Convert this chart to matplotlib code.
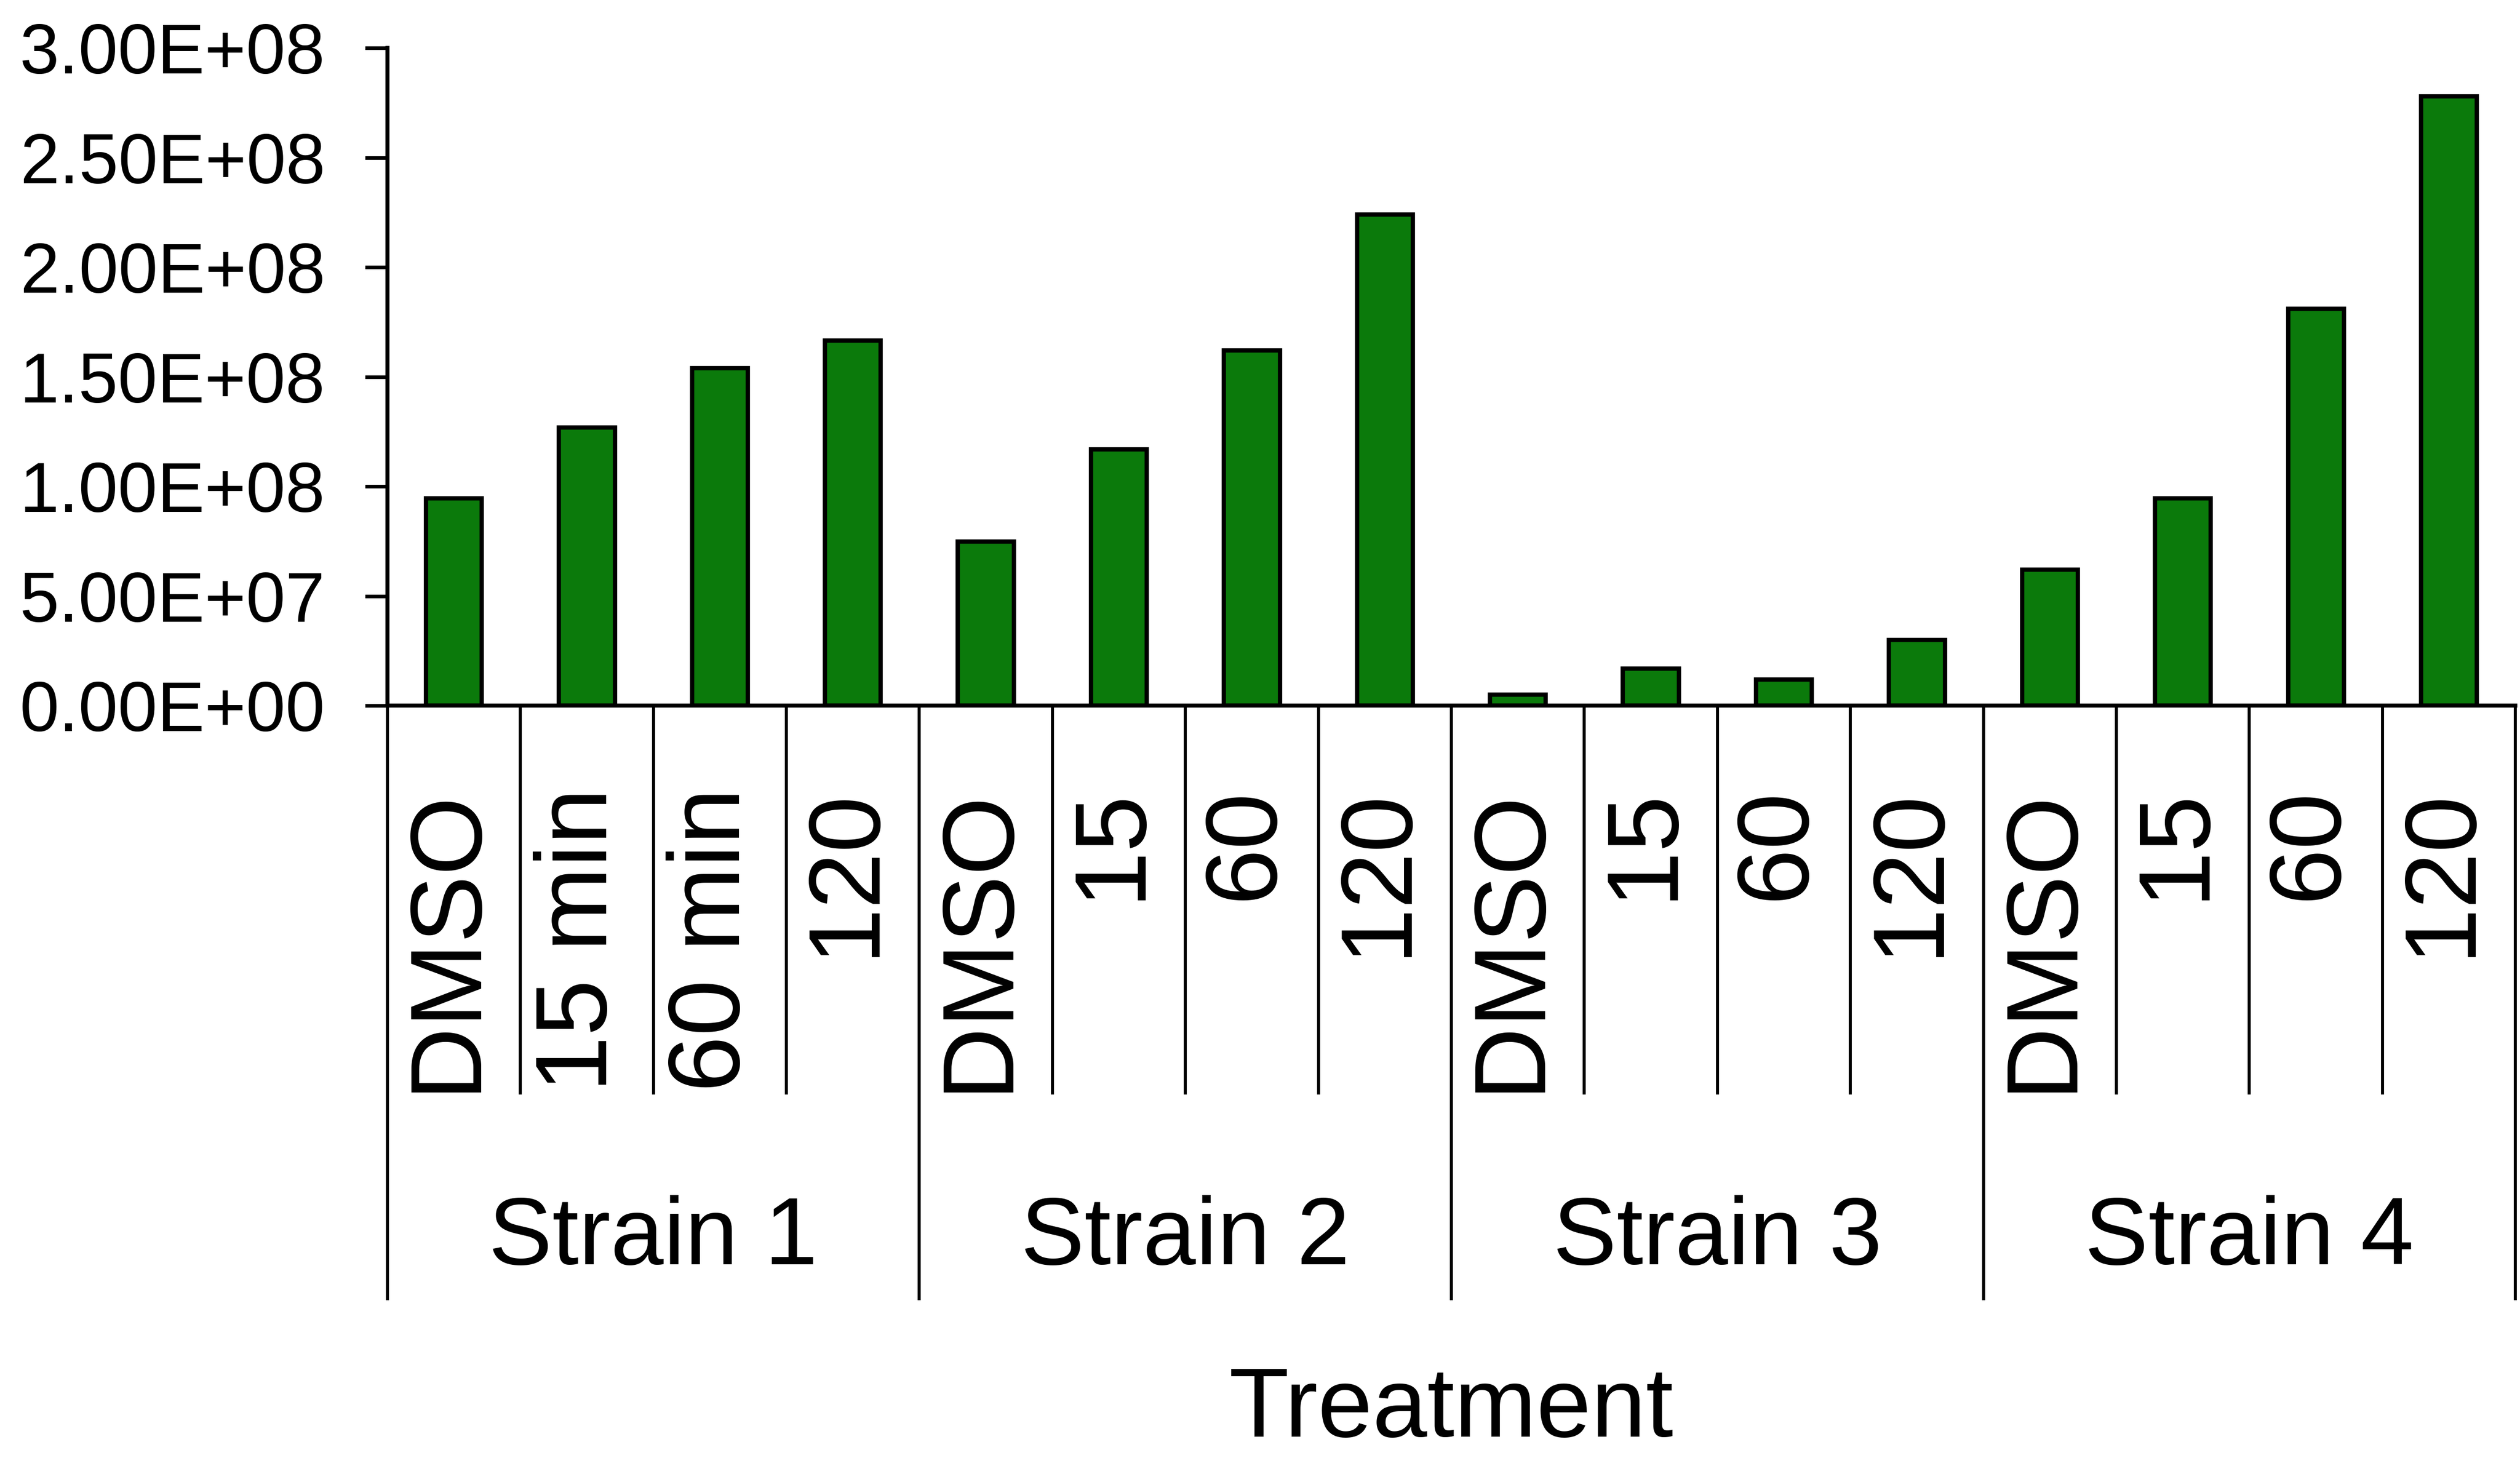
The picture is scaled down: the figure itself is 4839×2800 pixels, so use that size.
import matplotlib
matplotlib.use("Agg")
import matplotlib.pyplot as plt
import matplotlib.ticker as mticker
import numpy as np

plt.rcParams['font.family'] = ['Liberation Sans', 'DejaVu Sans']

strains = ["Strain 1", "Strain 2", "Strain 3", "Strain 4"]
treatments = [
    ["DMSO", "15 min", "60 min", "120"],
    ["DMSO", "15", "60", "120"],
    ["DMSO", "15", "60", "120"],
    ["DMSO", "15", "60", "120"],
]
values = [
    [0.945e8, 1.27e8, 1.54e8, 1.665e8],
    [0.75e8, 1.17e8, 1.62e8, 2.24e8],
    [0.05e8, 0.17e8, 0.12e8, 0.30e8],
    [0.62e8, 0.945e8, 1.81e8, 2.78e8],
]

labels = [t for grp in treatments for t in grp]
heights = [v for grp in values for v in grp]
x = np.arange(len(heights))
n_per = len(treatments[0])

fig = plt.figure(figsize=(48.39, 28), dpi=100)
ax = fig.add_axes([0.1537, 0.516, 0.8445, 0.451])

ax.bar(x, heights, width=0.42, color='#0b7a0b', edgecolor='black', linewidth=6, zorder=3)

ax.set_xlim(-0.5, len(heights) - 0.5)
ax.set_ylim(0, 3e8)
ax.yaxis.set_major_locator(mticker.MultipleLocator(5e7))
ax.yaxis.set_major_formatter(mticker.FuncFormatter(lambda v, p: "%.2E" % v))
ax.tick_params(axis='y', direction='out', length=31, width=5, pad=55, labelsize=98)
ax.set_xticks([])

for s in ['top', 'right']:
    ax.spines[s].set_visible(False)
ax.spines['left'].set_linewidth(5.5)
ax.spines['bottom'].set_linewidth(5.5)

tr = ax.get_xaxis_transform()

# category dividers and labels
for i in range(len(heights) + 1):
    xe = i - 0.5
    bottom = -0.902 if i % n_per == 0 else -0.589
    ax.plot([xe, xe], [0, bottom], transform=tr, color='black', lw=4.2, clip_on=False)

for i, lab in enumerate(labels):
    ax.text(i - 0.05, -0.125, lab, transform=tr, rotation=90, ha='center', va='top',
            fontsize=140)

for g, name in enumerate(strains):
    xc = g * n_per + (n_per - 1) / 2
    ax.text(xc, -0.812, name, transform=tr, ha='center', va='center', fontsize=132)

ax.text(0.5, -1.073, "Treatment", transform=ax.transAxes, ha='center', va='center',
        fontsize=136)

fig.savefig("out.png", dpi=100, facecolor='white')
